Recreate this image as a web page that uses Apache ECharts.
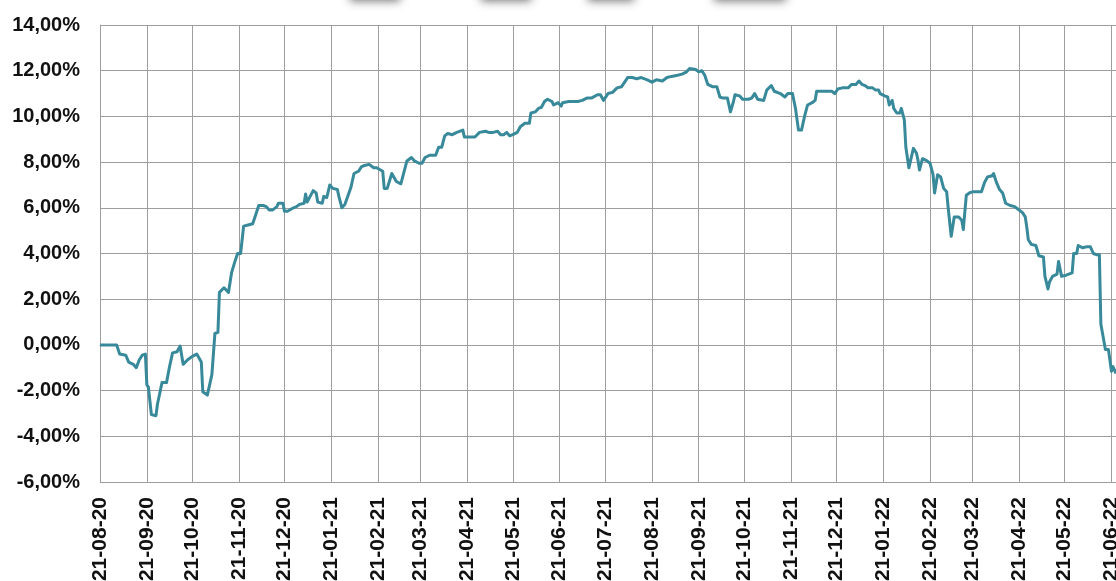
<!DOCTYPE html>
<html>
<head>
<meta charset="utf-8">
<script src="https://cdn.jsdelivr.net/npm/echarts@6/dist/echarts.min.js"></script>
<style>
  html, body { margin: 0; padding: 0; background: #fff; }
  #chart { width: 1116px; height: 581px; }
</style>
</head>
<body>
<div id="chart"></div>
<script>
// month labels shown on the x axis (DD-MM-YY)
var tickLabels = ['21-08-20', '21-09-20', '21-10-20', '21-11-20', '21-12-20', '21-01-21',
  '21-02-21', '21-03-21', '21-04-21', '21-05-21', '21-06-21', '21-07-21', '21-08-21',
  '21-09-21', '21-10-21', '21-11-21', '21-12-21', '21-01-22', '21-02-22', '21-03-22',
  '21-04-22', '21-05-22', '21-06-22'];

var startDate = '2020-08-21';
var dayCount = 673;

// day offset from startDate, and the value (in %)
var days = [0, 11, 13, 17, 19, 22, 24, 26, 28, 30, 31, 32, 34, 37, 38, 41, 44, 46, 48, 51,
  53, 55, 58, 61, 64, 67, 68, 71, 72, 74, 75, 76, 78,
  79, 82, 85, 87, 89, 91, 93, 95, 98, 101, 103, 105, 108, 110, 112, 114, 117, 118, 121,
  122, 124, 128, 130, 132, 135, 136, 137, 139, 141, 143, 144, 147, 148, 150, 152, 154,
  157, 158, 160, 162, 163, 166, 168, 171, 173, 175, 178, 181, 183, 187, 188, 190, 193,
  194, 196, 199, 200, 203, 206, 208, 211,
  213, 215, 218, 222, 224, 226, 228, 230, 233, 236, 237, 240, 241, 245, 248, 251, 255,
  257, 260, 263, 265, 267, 269, 271, 273, 276, 278, 281, 284, 285, 288, 290, 292, 294,
  296, 297, 299, 300, 303, 305, 306, 310, 313, 316, 319, 322, 325, 329, 331,
  333, 336, 339, 342, 345, 349, 352, 355, 358, 362, 365, 368, 372, 375, 378, 382, 385,
  388, 390, 394, 396, 398, 400, 402, 405, 408, 410, 412, 415, 417, 419, 420, 423, 425,
  429, 431, 433, 435, 439, 441, 444, 446, 450, 453, 455, 458,
  460, 462, 464, 466, 468, 471, 473, 474, 478, 481, 484, 486, 488, 491, 495, 497, 500,
  502, 504, 506, 508, 511, 513, 515, 516, 519, 521, 522, 524, 525, 527, 529, 530, 532,
  533, 534, 535, 538, 540, 541, 542, 544, 547, 549, 551, 552, 554, 556, 558, 560, 561,
  562, 563, 565, 568, 570, 571, 573, 575, 577, 580, 583, 585, 587, 590, 591, 593, 595,
  597, 599, 602, 605, 607, 610, 612, 613, 614, 616, 619, 621, 624, 625, 626, 627, 628,
  630, 633, 634, 636, 639, 643, 644, 646, 647, 650, 653, 655, 657, 659, 661, 662, 663,
  665, 667, 669, 670, 672];

var values = [0, 0, -0.4, -0.45, -0.75, -0.85, -1.0, -0.65, -0.45, -0.4, -1.75, -1.85,
  -3.05, -3.1, -2.6, -1.65, -1.65, -0.95, -0.35, -0.3, -0.05, -0.85, -0.65, -0.5, -0.4,
  -0.75, -2.05, -2.2, -2.2, -1.3, -1.25, 0.5, 0.55,
  2.3, 2.5, 2.3, 3.15, 3.6, 4.0, 4.0, 5.2, 5.25, 5.3, 5.7, 6.1, 6.1, 6.05, 5.9, 5.9,
  6.05, 6.2, 6.2, 5.85, 5.85, 6.0, 6.05, 6.15, 6.2, 6.6, 6.25, 6.5, 6.75, 6.65, 6.25,
  6.2, 6.5, 6.45, 7.0, 6.85, 6.8, 6.5, 6.0, 6.15, 6.2, 6.9, 7.5, 7.6, 7.8, 7.85, 7.9,
  7.75, 7.75, 7.6, 6.85, 6.85, 7.5, 7.5, 7.15, 7.05, 7.3, 8.05, 8.2, 8.05, 7.95,
  7.95, 8.2, 8.3, 8.3, 8.65, 8.65, 9.15, 9.25, 9.2, 9.3, 9.35, 9.4, 9.1, 9.1, 9.1, 9.3,
  9.35, 9.3, 9.3, 9.35, 9.2, 9.2, 9.3, 9.15, 9.2, 9.3, 9.55, 9.7, 9.7, 10.15, 10.2,
  10.35, 10.4, 10.65, 10.75, 10.8, 10.65, 10.5, 10.6, 10.45, 10.6, 10.65, 10.65, 10.65,
  10.7, 10.8, 10.8, 10.95, 10.95,
  10.7, 11.0, 11.05, 11.25, 11.3, 11.7, 11.7, 11.65, 11.7, 11.6, 11.5, 11.6, 11.55,
  11.7, 11.75, 11.8, 11.85, 11.95, 12.1, 12.05, 11.95, 12.0, 11.8, 11.4, 11.3, 11.3,
  10.85, 10.8, 10.8, 10.2, 10.65, 10.95, 10.9, 10.75, 10.75, 10.8, 11.0, 10.75, 10.7,
  11.15, 11.35, 11.1, 11.0, 10.85, 11.0, 11.0,
  10.35, 9.4, 9.4, 10.0, 10.5, 10.6, 10.7, 11.1, 11.1, 11.1, 11.1, 11.0, 11.2, 11.25,
  11.25, 11.4, 11.4, 11.55, 11.4, 11.35, 11.25, 11.25, 11.15, 11.15, 11.0, 10.9, 10.85,
  10.5, 10.7, 10.35, 10.15, 10.15, 10.35, 9.85, 8.65, 8.65, 7.75, 8.6, 8.4, 8.1, 7.65,
  8.15, 8.05, 7.95, 7.45, 6.65, 7.45, 7.35, 6.85, 6.7, 6.0, 6.0, 4.75, 5.6, 5.6, 5.45,
  5.05, 6.55, 6.65, 6.7, 6.7, 6.7, 7.1, 7.35, 7.4, 7.5, 7.1, 6.8, 6.65, 6.2, 6.1, 6.05,
  5.95, 5.8, 5.6, 5.15, 4.6, 4.4, 4.35, 3.9, 3.85, 3.0, 2.95, 2.45, 2.75, 3.0, 3.1,
  3.65, 3.0, 3.05, 3.15, 4.0, 4.0, 4.35, 4.25, 4.3, 4.3, 4.0, 3.95, 3.95, 0.9, 0.85,
  -0.2, -0.2, -1.15, -0.95, -1.25];

function pad(n) { return (n < 10 ? '0' : '') + n; }

// one category per calendar day, labelled DD-MM-YY
var categories = [];
var d0 = new Date(startDate + 'T00:00:00Z');
for (var i = 0; i < dayCount; i++) {
  var d = new Date(d0.getTime() + i * 86400000);
  categories.push(pad(d.getUTCDate()) + '-' + pad(d.getUTCMonth() + 1) + '-' + String(d.getUTCFullYear()).slice(2));
}

var seriesData = days.map(function (day, i) { return [day, values[i]]; });

function isTick(idx, val) { return tickLabels.indexOf(val) !== -1; }

var chart = echarts.init(document.getElementById('chart'));

var gridColor = '#9e9e9e';

var option = {
  backgroundColor: '#ffffff',
  animation: false,
  grid: {
    left: 100,
    right: 0,
    top: 25,
    bottom: 99,
    containLabel: false,
    outerBoundsMode: 'none'
  },
  xAxis: {
    type: 'category',
    data: categories,
    boundaryGap: false,
    axisLine: { show: true, lineStyle: { color: gridColor, width: 1 } },
    axisTick: { show: false },
    axisLabel: {
      interval: isTick,
      rotate: 90,
      margin: 15,
      color: '#111',
      fontFamily: 'Liberation Sans',
      fontWeight: 'bold',
      fontSize: 21
    },
    splitLine: {
      show: true,
      interval: isTick,
      lineStyle: { color: gridColor, width: 1 }
    }
  },
  yAxis: {
    type: 'value',
    min: -6,
    max: 14,
    interval: 2,
    axisLine: { show: true, lineStyle: { color: gridColor, width: 1 } },
    axisTick: { show: false },
    axisLabel: {
      margin: 20,
      color: '#111',
      fontFamily: 'Liberation Sans',
      fontWeight: 'bold',
      fontSize: 20,
      formatter: function (v) { return v.toFixed(2).replace('.', ',') + '%'; }
    },
    splitLine: { show: true, lineStyle: { color: gridColor, width: 1 } }
  },
  // cut-off buttons at the very top, only their shadows show
  graphic: [
    { type: 'rect', left: 350, top: -30, shape: { width: 50, height: 28 }, style: { fill: '#fff', shadowBlur: 10, shadowOffsetY: 3, shadowColor: 'rgba(0,0,0,0.55)' } },
    { type: 'rect', left: 481, top: -30, shape: { width: 50, height: 28 }, style: { fill: '#fff', shadowBlur: 10, shadowOffsetY: 3, shadowColor: 'rgba(0,0,0,0.55)' } },
    { type: 'rect', left: 588, top: -30, shape: { width: 46, height: 28 }, style: { fill: '#fff', shadowBlur: 10, shadowOffsetY: 3, shadowColor: 'rgba(0,0,0,0.55)' } },
    { type: 'rect', left: 714, top: -30, shape: { width: 72, height: 28 }, style: { fill: '#fff', shadowBlur: 10, shadowOffsetY: 3, shadowColor: 'rgba(0,0,0,0.55)' } }
  ],
  series: [
    {
      type: 'line',
      data: seriesData,
      symbol: 'none',
      lineStyle: { color: '#388a9b', width: 3, join: 'round' },
      z: 5
    }
  ]
};

chart.setOption(option);
</script>
</body>
</html>
